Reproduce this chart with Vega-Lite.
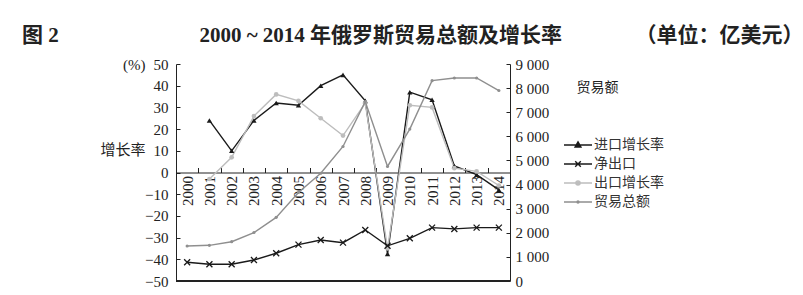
{
  "$schema": "https://vega.github.io/schema/vega-lite/v6.json",
  "width": 334,
  "height": 217,
  "autosize": {"type": "none"},
  "padding": {"left": 176, "top": 64, "right": 293, "bottom": 14},
  "background": "white",
  "config": {"view": {"stroke": null}, "font": "Liberation Serif, Noto Sans CJK SC"},
  "title": {
    "text": "图 2\u3000\u3000\u3000\u3000\u3000\u3000\u2002\u20092000 ~ 2014 年俄罗斯贸易总额及增长率\u3000\u3000\u3000\u2002（单位：亿美元）",
    "anchor": "start",
    "frame": "group",
    "dx": -154,
    "offset": 11,
    "font": "Liberation Serif, Noto Sans CJK SC",
    "fontSize": 21,
    "fontWeight": "bold",
    "color": "#222"
  },
  "data": {
    "values": [
      {"year": "2001", "series": "进口增长率", "axis": "rate", "value": 24},
      {"year": "2002", "series": "进口增长率", "axis": "rate", "value": 10},
      {"year": "2003", "series": "进口增长率", "axis": "rate", "value": 24},
      {"year": "2004", "series": "进口增长率", "axis": "rate", "value": 32},
      {"year": "2005", "series": "进口增长率", "axis": "rate", "value": 31},
      {"year": "2006", "series": "进口增长率", "axis": "rate", "value": 40},
      {"year": "2007", "series": "进口增长率", "axis": "rate", "value": 45},
      {"year": "2008", "series": "进口增长率", "axis": "rate", "value": 33},
      {"year": "2009", "series": "进口增长率", "axis": "rate", "value": -37.5},
      {"year": "2010", "series": "进口增长率", "axis": "rate", "value": 37},
      {"year": "2011", "series": "进口增长率", "axis": "rate", "value": 33.5},
      {"year": "2012", "series": "进口增长率", "axis": "rate", "value": 3},
      {"year": "2013", "series": "进口增长率", "axis": "rate", "value": -1},
      {"year": "2014", "series": "进口增长率", "axis": "rate", "value": -8},
      {"year": "2001", "series": "出口增长率", "axis": "rate", "value": -3},
      {"year": "2002", "series": "出口增长率", "axis": "rate", "value": 7},
      {"year": "2003", "series": "出口增长率", "axis": "rate", "value": 26},
      {"year": "2004", "series": "出口增长率", "axis": "rate", "value": 36},
      {"year": "2005", "series": "出口增长率", "axis": "rate", "value": 33},
      {"year": "2006", "series": "出口增长率", "axis": "rate", "value": 25},
      {"year": "2007", "series": "出口增长率", "axis": "rate", "value": 17},
      {"year": "2008", "series": "出口增长率", "axis": "rate", "value": 32},
      {"year": "2009", "series": "出口增长率", "axis": "rate", "value": -35},
      {"year": "2010", "series": "出口增长率", "axis": "rate", "value": 31},
      {"year": "2011", "series": "出口增长率", "axis": "rate", "value": 30},
      {"year": "2012", "series": "出口增长率", "axis": "rate", "value": 2},
      {"year": "2013", "series": "出口增长率", "axis": "rate", "value": 0.5},
      {"year": "2014", "series": "出口增长率", "axis": "rate", "value": -6},
      {"year": "2000", "series": "净出口", "axis": "amount", "value": 775},
      {"year": "2001", "series": "净出口", "axis": "amount", "value": 693},
      {"year": "2002", "series": "净出口", "axis": "amount", "value": 693},
      {"year": "2003", "series": "净出口", "axis": "amount", "value": 870},
      {"year": "2004", "series": "净出口", "axis": "amount", "value": 1150},
      {"year": "2005", "series": "净出口", "axis": "amount", "value": 1510},
      {"year": "2006", "series": "净出口", "axis": "amount", "value": 1700},
      {"year": "2007", "series": "净出口", "axis": "amount", "value": 1590},
      {"year": "2008", "series": "净出口", "axis": "amount", "value": 2115},
      {"year": "2009", "series": "净出口", "axis": "amount", "value": 1460},
      {"year": "2010", "series": "净出口", "axis": "amount", "value": 1770},
      {"year": "2011", "series": "净出口", "axis": "amount", "value": 2215},
      {"year": "2012", "series": "净出口", "axis": "amount", "value": 2160},
      {"year": "2013", "series": "净出口", "axis": "amount", "value": 2215},
      {"year": "2014", "series": "净出口", "axis": "amount", "value": 2215},
      {"year": "2000", "series": "贸易总额", "axis": "amount", "value": 1450},
      {"year": "2001", "series": "贸易总额", "axis": "amount", "value": 1480},
      {"year": "2002", "series": "贸易总额", "axis": "amount", "value": 1630},
      {"year": "2003", "series": "贸易总额", "axis": "amount", "value": 2010},
      {"year": "2004", "series": "贸易总额", "axis": "amount", "value": 2640},
      {"year": "2005", "series": "贸易总额", "axis": "amount", "value": 3670},
      {"year": "2006", "series": "贸易总额", "axis": "amount", "value": 4470},
      {"year": "2007", "series": "贸易总额", "axis": "amount", "value": 5580},
      {"year": "2008", "series": "贸易总额", "axis": "amount", "value": 7440},
      {"year": "2009", "series": "贸易总额", "axis": "amount", "value": 4750},
      {"year": "2010", "series": "贸易总额", "axis": "amount", "value": 6300},
      {"year": "2011", "series": "贸易总额", "axis": "amount", "value": 8310},
      {"year": "2012", "series": "贸易总额", "axis": "amount", "value": 8420},
      {"year": "2013", "series": "贸易总额", "axis": "amount", "value": 8420},
      {"year": "2014", "series": "贸易总额", "axis": "amount", "value": 7900}
    ]
  },
  "resolve": {"scale": {"y": "independent"}},
  "layer": [
    {
      "encoding": {
        "y": {
          "field": "value",
          "type": "quantitative",
          "scale": {"domain": [-50, 50]},
          "axis": {
            "orient": "left",
            "values": [-50, -40, -30, -20, -10, 0, 10, 20, 30, 40, 50],
            "tickCount": 11,
            "labelOverlap": false,
            "labelBound": false,
            "labelFlush": false,
            "grid": false,
            "tickSize": -4,
            "labelPadding": 12,
            "labelFont": "Liberation Serif",
            "labelFontSize": 15,
            "labelColor": "#222",
            "domainColor": "#222",
            "tickColor": "#222",
            "title": ["(%)", "增长率"],
            "titleAngle": 0,
            "titleAlign": "right",
            "titleBaseline": "top",
            "titleX": -31,
            "titleY": -6.5,
            "titleLineHeight": 85,
            "titleFont": "Liberation Serif, Noto Sans CJK SC",
            "titleFontSize": 15,
            "titleFontWeight": "normal",
            "titleColor": "#222"
          }
        }
      },
      "layer": [
        {
          "mark": {"type": "rule", "color": "#222", "strokeWidth": 1},
          "encoding": {"y": {"datum": -50, "type": "quantitative"}}
        },
        {
          "transform": [{"filter": "datum.axis === 'rate'"}],
          "mark": {"type": "line", "strokeWidth": 1.4},
          "encoding": {
            "x": {
              "field": "year", "type": "ordinal", "bandPosition": 0.5,
              "scale": {"type": "band", "paddingInner": 0, "paddingOuter": 0},
              "axis": {
                "title": null, "orient": "bottom", "offset": -108.5, "labelAngle": -90,
                "tickBand": "extent", "tickSize": -5, "labelPadding": 8,
                "labelOverlap": false, "labelBound": false,
                "domainColor": "#222", "tickColor": "#222", "labelColor": "#222",
                "labelFontSize": 15, "labelFont": "Liberation Serif", "grid": false
              }
            },
            "color": {
              "field": "series", "type": "nominal",
              "scale": {
                "domain": ["进口增长率", "净出口", "出口增长率", "贸易总额"],
                "range": ["#1a1a1a", "#1a1a1a", "#bdbdbd", "#8f8f8f"]
              },
              "legend": {
                "orient": "none", "legendX": 394, "legendY": 73, "title": null, "padding": 0,
                "labelFont": "Noto Sans CJK SC", "labelFontSize": 14, "labelColor": "#333",
                "symbolSize": 196, "labelOffset": 8, "rowPadding": 4, "symbolStrokeWidth": 1.4,
                "encode": {
                  "symbols": {
                    "update": {
                      "shape": {"signal": "datum.value === '进口增长率' ? 'M-2,0H2M0,-0.45L0.42,0.3H-0.42Z' : datum.value === '净出口' ? 'M-2,0H2M-0.4,-0.4L0.4,0.4M-0.4,0.4L0.4,-0.4' : datum.value === '出口增长率' ? 'M-2,0H2M0.3,0A0.3,0.3 0 1 1 -0.3,0A0.3,0.3 0 1 1 0.3,0' : 'M-2,0H2M0.15,0A0.15,0.15 0 1 1 -0.15,0A0.15,0.15 0 1 1 0.15,0'"},
                      "stroke": {"signal": "scale('color', datum.value)"},
                      "fill": {"signal": "scale('color', datum.value)"},
                      "opacity": {"value": 1}
                    }
                  }
                }
              }
            }
          }
        },
        {
          "transform": [{"filter": "datum.series === '进口增长率'"}],
          "mark": {"type": "point", "shape": "triangle-up", "filled": true, "color": "#1a1a1a", "size": 28, "opacity": 1},
          "encoding": {
            "x": {"field": "year", "type": "ordinal", "bandPosition": 0.5, "scale": {"type": "band", "paddingInner": 0, "paddingOuter": 0}}
          }
        },
        {
          "transform": [{"filter": "datum.series === '出口增长率'"}],
          "mark": {"type": "point", "shape": "circle", "filled": true, "color": "#bdbdbd", "size": 22, "opacity": 1},
          "encoding": {
            "x": {"field": "year", "type": "ordinal", "bandPosition": 0.5, "scale": {"type": "band", "paddingInner": 0, "paddingOuter": 0}}
          }
        }
      ]
    },
    {
      "encoding": {
        "x": {"field": "year", "type": "ordinal", "bandPosition": 0.5, "scale": {"type": "band", "paddingInner": 0, "paddingOuter": 0}},
        "y": {
          "field": "value", "type": "quantitative",
          "scale": {"domain": [0, 9000]},
          "axis": {
            "orient": "right",
            "values": [0, 1000, 2000, 3000, 4000, 5000, 6000, 7000, 8000, 9000],
            "tickCount": 10,
            "labelExpr": "replace(format(datum.value, ','), ',', ' ')",
            "labelOverlap": false,
            "labelBound": false,
            "labelFlush": false,
            "grid": false,
            "tickSize": -4,
            "labelPadding": 9,
            "labelFont": "Liberation Serif",
            "labelFontSize": 15,
            "labelColor": "#222",
            "domainColor": "#222",
            "tickColor": "#222",
            "title": "贸易额",
            "titleAngle": 0,
            "titleAlign": "left",
            "titleBaseline": "middle",
            "titleX": 66,
            "titleY": 23,
            "titleFont": "Noto Sans CJK SC",
            "titleFontSize": 14,
            "titleFontWeight": "normal",
            "titleColor": "#222"
          }
        }
      },
      "layer": [
        {
          "transform": [{"filter": "datum.axis === 'amount'"}],
          "mark": {"type": "line", "strokeWidth": 1.4},
          "encoding": {"color": {"field": "series", "type": "nominal"}}
        },
        {
          "transform": [{"filter": "datum.series === '净出口'"}],
          "mark": {"type": "point", "shape": "M-1,-1L1,1M-1,1L1,-1", "filled": false, "color": "#1a1a1a", "strokeWidth": 1.3, "size": 36, "opacity": 1}
        },
        {
          "transform": [{"filter": "datum.series === '贸易总额'"}],
          "mark": {"type": "point", "shape": "circle", "filled": true, "color": "#8f8f8f", "size": 10, "opacity": 1}
        }
      ]
    }
  ]
}
